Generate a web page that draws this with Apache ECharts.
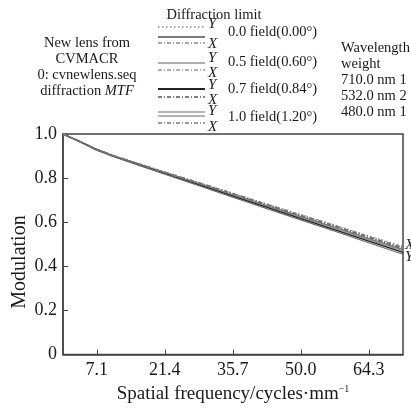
<!DOCTYPE html>
<html><head><meta charset="utf-8">
<script src="https://cdn.jsdelivr.net/npm/echarts@6/dist/echarts.min.js"></script>
<style>html,body{margin:0;padding:0;background:#fff}#c{width:411px;height:409px}</style>
</head><body><div id="c"></div>
<script>
var freq = [0, 3.6, 7.1, 10.7, 14.3, 21.4, 28.6, 35.7, 42.9, 50.0, 57.2, 64.3, 71.5];
var diffLimit = [1.0, 0.966, 0.931, 0.902, 0.877, 0.828, 0.780, 0.732, 0.683, 0.635, 0.587, 0.538, 0.490];
var f00Y = [1.0, 0.965, 0.929, 0.900, 0.874, 0.824, 0.774, 0.725, 0.675, 0.625, 0.576, 0.525, 0.476];
var f00X = [1.0, 0.966, 0.930, 0.901, 0.876, 0.827, 0.779, 0.730, 0.681, 0.633, 0.585, 0.535, 0.487];
var f05Y = [1.0, 0.965, 0.928, 0.899, 0.873, 0.822, 0.772, 0.722, 0.671, 0.621, 0.571, 0.520, 0.470];
var f05X = [1.0, 0.965, 0.930, 0.901, 0.876, 0.826, 0.778, 0.729, 0.680, 0.632, 0.583, 0.534, 0.485];
var f07Y = [1.0, 0.965, 0.928, 0.898, 0.872, 0.820, 0.769, 0.718, 0.667, 0.616, 0.565, 0.514, 0.463];
var f07X = [1.0, 0.965, 0.930, 0.901, 0.875, 0.826, 0.777, 0.728, 0.678, 0.629, 0.581, 0.531, 0.482];
var f10Y = [1.0, 0.964, 0.927, 0.897, 0.870, 0.818, 0.766, 0.714, 0.662, 0.611, 0.559, 0.507, 0.455];
var f10X = [1.0, 0.965, 0.929, 0.900, 0.875, 0.825, 0.776, 0.726, 0.676, 0.627, 0.578, 0.528, 0.479];
var xTicks = [7.1, 21.4, 35.7, 50.0, 64.3];
var yTicks = [0, 0.2, 0.4, 0.6, 0.8, 1.0];
var leftNote = ['New lens from', 'CVMACR', '0: cvnewlens.seq', 'diffraction {i|MTF}'];
var rightNote = ['Wavelength', 'weight', '710.0 nm 1', '532.0 nm 2', '480.0 nm 1'];
var fieldNames = ['0.0 field(0.00\u00b0)', '0.5 field(0.60\u00b0)', '0.7 field(0.84\u00b0)', '1.0 field(1.20\u00b0)'];

var FONT = '"Liberation Serif", "DejaVu Serif", serif';
var DASHDOT = [4, 2, 1, 2];
function pairs(ys){ return freq.map(function(x,i){ return [x, ys[i]]; }); }
function ser(name, ys, color, width, type){
  return {name:name, type:'line', data:pairs(ys), showSymbol:false, silent:true, smooth:false,
    lineStyle:{color:color, width:width, type:type}};
}
var series = [
  ser('Diffraction limit', diffLimit, '#8a8a8a', 1.3, [1.5, 2.5]),
  ser('0.0 Y', f00Y, '#7a7a7a', 1.6, 'solid'),
  ser('0.0 X', f00X, '#8a8a8a', 1.4, DASHDOT),
  ser('0.5 Y', f05Y, '#959595', 1.2, 'solid'),
  ser('0.5 X', f05X, '#959595', 1.4, DASHDOT),
  ser('0.7 Y', f07Y, '#222222', 1.3, 'solid'),
  ser('0.7 X', f07X, '#555555', 1.4, DASHDOT),
  ser('1.0 Y', f10Y, '#6a6a6a', 1.2, 'solid'),
  ser('1.0 X', f10X, '#7a7a7a', 1.4, DASHDOT)
];

var g = [];
function txt(x, y, s, size, align, extra){
  var st = {x:x, y:y, text:s, font: (size||14.5)+'px '+FONT, fill:'#1a1a1a', textAlign:align||'left', textVerticalAlign:'middle'};
  if (extra) for (var k in extra) st[k]=extra[k];
  g.push({type:'text', style:st, silent:true});
}
function ln(y, color, width, dash){
  g.push({type:'line', shape:{x1:158, y1:y, x2:205, y2:y}, style:{stroke:color, lineWidth:width, lineDash:dash||null}, silent:true});
}
txt(214, 15, 'Diffraction limit', 14.5, 'center');
var ly = [43, 59, 75, 91];
leftNote.forEach(function(s,i){
  txt(87, ly[i], s, 14.5, 'center', {rich:{i:{fontStyle:'italic', fontFamily:FONT, fontSize:14.5, fill:'#1a1a1a'}}});
});
var ry = [48, 64, 80, 96, 112];
rightNote.forEach(function(s,i){ txt(341, ry[i], s, 14.5, 'left'); });
function yx(x, y, s){ txt(x, y, s, 15, 'left', {font:'italic 15px '+FONT}); }
ln(27, '#8a8a8a', 1.3, [1.5, 2.5]); yx(208, 24, 'Y');
txt(228, 32, fieldNames[0]);
ln(37, '#7a7a7a', 2.2); ln(43, '#8a8a8a', 1.5, DASHDOT); yx(208, 44, 'X');
yx(208, 58, 'Y'); txt(228, 62, fieldNames[1]);
ln(63, '#959595', 1.4); ln(70, '#959595', 1.5, DASHDOT); yx(208, 73, 'X');
yx(208, 85, 'Y'); txt(228, 89, fieldNames[2]);
ln(89, '#222222', 2); ln(97, '#555555', 1.5, DASHDOT); yx(208, 100, 'X');
yx(208, 111, 'Y'); txt(228, 117, fieldNames[3]);
ln(112, '#6a6a6a', 1.2); ln(116, '#6a6a6a', 1.2); ln(123, '#7a7a7a', 1.5, DASHDOT); yx(208, 127, 'X');
yx(405, 245, 'X'); yx(405, 257, 'Y');
g.push({type:'text', silent:true, x:20, y:262, rotation:Math.PI/2,
  style:{x:0, y:0, text:'Modulation', font:'20px '+FONT, fill:'#1a1a1a', textAlign:'center', textVerticalAlign:'middle'}});

var chart = echarts.init(document.getElementById('c'), null, {renderer:'canvas'});
chart.setOption({
  animation:false,
  backgroundColor:'#fff',
  grid:{left:63, right:8, top:134, bottom:49, show:true, borderColor:'#444', borderWidth:1.5, backgroundColor:'transparent'},
  xAxis:{type:'value', min:0, max:71.5,
    axisLine:{show:true, lineStyle:{color:'#444', width:1.5}},
    axisTick:{show:true, inside:true, length:5, customValues:xTicks, lineStyle:{color:'#444'}},
    axisLabel:{customValues:xTicks, margin:7, formatter:function(v){return v.toFixed(1);}, color:'#1a1a1a', fontFamily:FONT, fontSize:18},
    splitLine:{show:false},
    name:'Spatial frequency/cycles\u00b7mm{s|\u22121}', nameLocation:'middle', nameGap:24,
    nameTextStyle:{color:'#1a1a1a', fontFamily:FONT, fontSize:19, rich:{s:{fontFamily:FONT, fontSize:10, verticalAlign:'top', padding:[0,0,10,0], color:'#1a1a1a'}}}
  },
  yAxis:{type:'value', min:0, max:1, interval:0.2,
    axisLine:{show:true, lineStyle:{color:'#444', width:1.5}},
    axisTick:{show:true, inside:true, length:5, lineStyle:{color:'#444'}},
    axisLabel:{margin:6, formatter:function(v){return v===0?'0':v.toFixed(1);}, color:'#1a1a1a', fontFamily:FONT, fontSize:18},
    splitLine:{show:false}
  },
  series:series,
  graphic:g
});
</script></body></html>
